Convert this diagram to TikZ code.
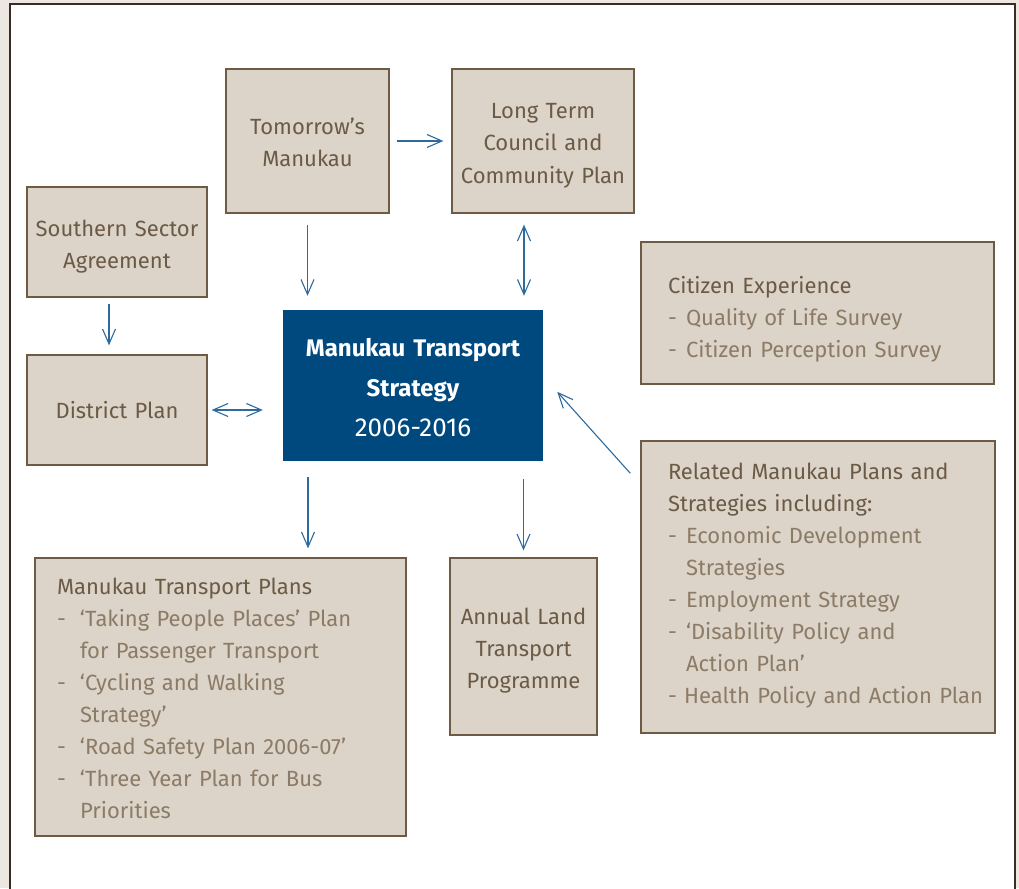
\documentclass[tikz,border=0pt]{standalone}
\usepackage{fontspec}
\setmainfont{Fira Sans}
\usetikzlibrary{arrows.meta}
\definecolor{outerbg}{HTML}{ECE7E1}
\definecolor{framec}{HTML}{3B2C22}
\definecolor{boxfill}{HTML}{DCD4C9}
\definecolor{boxline}{HTML}{6E5B45}
\definecolor{headc}{HTML}{6B5A45}
\definecolor{itemc}{HTML}{8C7B66}
\definecolor{mtsblue}{HTML}{00497F}
\definecolor{arrc}{HTML}{2D6A9E}
\newcommand{\itm}[2][18pt]{{\color{itemc}\makebox[#1][l]{-}#2}}
\newcommand{\cnt}[2][18pt]{{\color{itemc}\hspace*{#1}#2}}
\newcommand{\bstr}[1]{\rule{0pt}{#1}}
\newcommand{\estr}[1]{\rule[-#1]{0pt}{#1}}
\tikzset{
  box/.style={draw=boxline, fill=boxfill, line width=1.3pt, rectangle, inner sep=0pt,
    font=\fontsize{22}{32}\selectfont, text=headc,
    execute at begin node=\bstr{27pt}, execute at end node=\estr{7pt}},
  cbox/.style 2 args={box, align=center, minimum width=#1, text width=#1, minimum height=#2},
  lbox/.style={box, align=left, execute at begin node=\bstr{31pt}},
  arr/.style={draw=arrc, line width=1.1pt, -{Straight Barb[length=15pt,width=13pt]}},
  darr/.style={draw=arrc, line width=1.1pt, {Straight Barb[length=15pt,width=13pt]}-{Straight Barb[length=15pt,width=13pt]}}
}
\begin{document}
\begin{tikzpicture}[x=1pt,y=-1pt]
\fill[outerbg] (0,0) rectangle (1019,888);
\path[use as bounding box] (0,0) rectangle (1019,888);
\fill[white] (10,4) rectangle (1015,900);
\draw[framec, line width=2pt] (10,900) -- (10,4) -- (1015,4) -- (1015,900);

\node[cbox={163}{144}] (tm) at (307.5,141) {Tomorrow’s\\Manukau};
\node[cbox={182}{144}] (ltc) at (543,141) {Long Term\\Council and\\Community Plan};
\node[cbox={180}{110}] (ssa) at (117,242) {Southern Sector\\Agreement};
\node[cbox={180}{110}, execute at end node=\estr{10pt}] (dp) at (117,410) {District Plan};
\node[fill=mtsblue, minimum width=260, text width=260, minimum height=151, inner sep=0pt, text=white, align=center,
  font=\fontsize{24}{40}\selectfont, execute at begin node=\bstr{28pt}, execute at end node=\estr{6pt}] (mts) at (413,385.5)
  {{\bfseries Manukau Transport\\Strategy}\\{\mdseries\fontsize{26}{40}\selectfont 2006-2016}};
\node[lbox, minimum width=353, minimum height=142, text width=299, inner xsep=27] (ce) at (817.5,313)
  {Citizen Experience\\\itm{Quality of Life Survey}\\\itm{Citizen Perception Survey}};
\node[lbox, minimum width=354, minimum height=292, text width=300, inner xsep=27, execute at end node=\estr{22pt}] (rel) at (818,587)
  {Related Manukau Plans and\\Strategies including:\\\itm{Economic Development}\\\cnt{Strategies}\\\itm{Employment Strategy}\\\itm{‘Disability Policy and}\\\cnt{Action Plan’}\\\mbox{\color{itemc}- Health Policy and Action Plan}};
\node[lbox, minimum width=371, minimum height=278, text width=327, inner xsep=22, execute at end node=\estr{12pt}] (tp) at (220.5,697)
  {Manukau Transport Plans\\\itm[23pt]{‘Taking People Places’ Plan}\\\cnt[23pt]{for Passenger Transport}\\\itm[23pt]{‘Cycling and Walking}\\\cnt[23pt]{Strategy’}\\\itm[23pt]{‘Road Safety Plan 2006-07’}\\\itm[23pt]{‘Three Year Plan for Bus}\\\cnt[23pt]{Priorities}};
\node[cbox={147}{177}] (altp) at (523.5,646.5) {Annual Land\\Transport\\Programme};

\draw[arr, shorten <=7pt, shorten >=8pt] (tm.east) -- (ltc.west);
\draw[arr, shorten <=11pt, shorten >=14pt] (tm.south) -- (tm.south |- mts.north);
\draw[darr, shorten <=11pt, shorten >=14pt] ([xshift=-19pt]ltc.south) -- ([xshift=-19pt]ltc.south |- mts.north);
\draw[arr, shorten <=6pt, shorten >=9pt] ([xshift=-8pt]ssa.south) -- ([xshift=-8pt]dp.north);
\draw[darr, shorten <=4pt, shorten >=20pt] (dp.east) -- (mts.west |- dp.east);
\draw[arr] ([xshift=-10pt,yshift=-33pt]rel.north west) -- ([xshift=14pt,yshift=-82pt]mts.north east);
\draw[arr, shorten <=16pt, shorten >=9pt] ([xshift=-105pt]mts.south) -- ([xshift=-105pt]mts.south |- tp.north);
\draw[arr, shorten <=18pt, shorten >=7pt] (altp.north |- mts.south) -- (altp.north);
\end{tikzpicture}
\end{document}
